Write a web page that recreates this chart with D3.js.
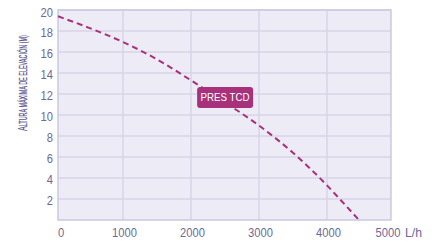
<!DOCTYPE html>
<html>
<head>
<meta charset="utf-8">
<script src="https://cdn.jsdelivr.net/npm/d3@7"></script>
<style>
  body { margin: 0; background: #fff; }
  svg { display: block; }
  .tick-label { font-family: "Liberation Sans", Arial, sans-serif; font-size: 13px; fill: #6d6898; }
</style>
</head>
<body>
<svg id="chart" width="435" height="246"></svg>
<script>
// data
var flow = [45, 500, 1000, 1500, 2000, 2500, 3000, 3500, 4000, 4300, 4470];
var height_m = [19.4, 18.3, 16.95, 15.3, 13.3, 11.2, 9.0, 6.4, 3.3, 1.2, 0];
var x_ticks = [0, 1000, 2000, 3000, 4000, 5000];
var y_ticks = [2, 4, 6, 8, 10, 12, 14, 16, 18, 20];
var series_label = "PRES TCD";
var y_title_first = "A";
var y_title_rest = "LTURA MÁXIMA DE ELEVACIÓN (M)";
var x_unit = "L/h";

var svg = d3.select("#chart");
var plot_left = 58, plot_right = 391;
var x = d3.scaleLinear().domain([0, 5000]).range([55, 395]);
var y = d3.scaleLinear().domain([0, 20]).range([220, 10]);

// plot background
svg.append("rect")
  .attr("x", plot_left).attr("y", y(20))
  .attr("width", plot_right - plot_left).attr("height", y(0) - y(20))
  .attr("fill", "#ecebf6");

// grid
svg.append("g").selectAll("line").data(y_ticks).enter().append("line")
  .attr("x1", plot_left).attr("x2", plot_right)
  .attr("y1", function(d){ return y(d); }).attr("y2", function(d){ return y(d); })
  .attr("stroke", "#d8d4e8").attr("stroke-width", 1.5);
svg.append("g").selectAll("line").data(x_ticks.slice(1, -1)).enter().append("line")
  .attr("x1", function(d){ return x(d); }).attr("x2", function(d){ return x(d); })
  .attr("y1", y(20)).attr("y2", y(0))
  .attr("stroke", "#d8d4e8").attr("stroke-width", 1.5);

// border
svg.append("rect")
  .attr("x", plot_left).attr("y", y(20))
  .attr("width", plot_right - plot_left).attr("height", y(0) - y(20))
  .attr("fill", "none").attr("stroke", "#cdc9de").attr("stroke-width", 1.5);

// tick labels (narrow look)
svg.append("g").selectAll("text").data(y_ticks).enter().append("text")
  .attr("class", "tick-label")
  .attr("x", 53).attr("y", function(d){ return Math.max(y(d) + 5.5, 17); })
  .attr("text-anchor", "end")
  .attr("textLength", function(d){ return String(d).length * 6.2; })
  .attr("lengthAdjust", "spacingAndGlyphs")
  .text(function(d){ return d; });
svg.append("g").selectAll("text").data(x_ticks).enter().append("text")
  .attr("class", "tick-label")
  .attr("x", function(d){ return d == 0 ? 61 : (d == 5000 ? 388 : x(d) + 1.5); })
  .attr("y", 237)
  .attr("text-anchor", "middle")
  .attr("textLength", function(d){ return String(d).length * 6.2; })
  .attr("lengthAdjust", "spacingAndGlyphs")
  .text(function(d){ return d; });
svg.append("text")
  .attr("class", "tick-label")
  .attr("x", 405).attr("y", 237)
  .attr("textLength", 17)
  .attr("lengthAdjust", "spacingAndGlyphs")
  .text(x_unit);

// y title (small caps made by hand, squeezed to the narrow look)
var title = svg.append("text")
  .attr("font-family", "Liberation Sans, Arial, sans-serif")
  .attr("fill", "#5a5592")
  .attr("stroke", "#5a5592")
  .attr("stroke-width", 0.25);
title.append("tspan").attr("font-size", 13.5).text(y_title_first);
title.append("tspan").attr("font-size", 10.5).text(y_title_rest);
var title_len = title.node().getComputedTextLength();
title.attr("transform", "translate(27,131) rotate(-90) scale(" + (96 / title_len) + ",1)");

// curve
var line = d3.line()
  .x(function(d){ return x(d[0]); })
  .y(function(d){ return y(d[1]); })
  .curve(d3.curveMonotoneX);
svg.append("path")
  .datum(d3.zip(flow, height_m))
  .attr("d", line)
  .attr("fill", "none")
  .attr("stroke", "#a8317c")
  .attr("stroke-width", 2)
  .attr("stroke-dasharray", "6,4");

// label box
var lx = 2090, ly = 11.67;
svg.append("rect")
  .attr("x", x(lx)).attr("y", y(ly) - 10.5)
  .attr("width", 56).attr("height", 21)
  .attr("rx", 3)
  .attr("fill", "#a8317c");
svg.append("text")
  .attr("x", x(lx) + 28).attr("y", y(ly) + 4)
  .attr("text-anchor", "middle")
  .attr("font-family", "Liberation Sans, Arial, sans-serif")
  .attr("font-size", 11)
  .attr("fill", "#fff")
  .attr("textLength", 49)
  .attr("lengthAdjust", "spacingAndGlyphs")
  .text(series_label);
</script>
</body>
</html>
